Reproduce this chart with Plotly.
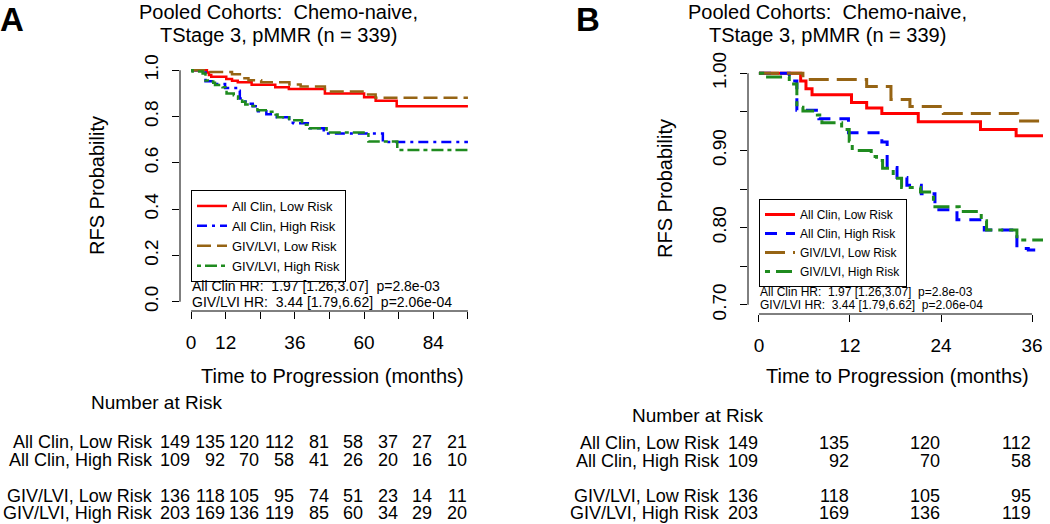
import plotly.graph_objects as go

FONT = "Liberation Sans, Arial, Helvetica, sans-serif"

# ---------------- data ----------------
series_names = ["All Clin, Low Risk", "All Clin, High Risk", "GIV/LVI, Low Risk", "GIV/LVI, High Risk"]

clin_low_t = [0, 5.5, 6.2, 7.0, 12.2, 14.2, 16.2, 21.0, 29.2, 33.9, 46.4, 60.0, 64.0, 71.3, 96.0]
clin_low_s = [1.0, 0.990, 0.980, 0.972, 0.962, 0.955, 0.948, 0.937, 0.927, 0.919, 0.900, 0.883, 0.868, 0.845, 0.845]

clin_high_t = [0, 4.0, 5.0, 7.9, 11.8, 16.2, 16.9, 18.2, 19.5, 21.4, 23.2, 26.1, 29.7, 34.0, 35.5, 41.3, 46.0, 66.5, 96.0]
clin_high_s = [1.0, 0.990, 0.952, 0.941, 0.923, 0.911, 0.878, 0.865, 0.855, 0.844, 0.823, 0.810, 0.797, 0.773, 0.771, 0.749, 0.727, 0.690, 0.690]

giv_low_t = [0, 5.8, 14.2, 17.4, 19.9, 24.3, 34.1, 38.0, 46.4, 60.3, 64.0, 96.0]
giv_low_s = [1.0, 0.992, 0.983, 0.966, 0.957, 0.948, 0.938, 0.930, 0.908, 0.895, 0.881, 0.881]

giv_high_t = [0, 0.5, 4.0, 5.0, 5.8, 7.7, 8.3, 10.9, 11.9, 12.3, 14.8, 15.5, 16.3, 17.7, 18.8, 21.3, 23.0, 26.4,
              29.3, 30.0, 34.0, 38.5, 41.0, 47.0, 61.5, 71.5, 96.0]
giv_high_s = [1.0, 0.995, 0.986, 0.956, 0.951, 0.946, 0.936, 0.927, 0.912, 0.900, 0.892, 0.887, 0.877, 0.864,
              0.852, 0.846, 0.827, 0.821, 0.809, 0.797, 0.784, 0.765, 0.749, 0.731, 0.692, 0.656, 0.656]

colors = ["#FF0000", "#0000FF", "#966414", "#1F8B1F"]

# axes ticks
a_xticks = [0, 12, 24, 36, 48, 60, 72, 84, 96]
a_xtext = ["0", "12", "", "36", "", "60", "", "84", ""]
a_yticks = [0.0, 0.2, 0.4, 0.6, 0.8, 1.0]
a_ytext = ["0.0", "0.2", "0.4", "0.6", "0.8", "1.0"]
b_xticks = [0, 12, 24, 36]
b_xtext = ["0", "12", "24", "36"]
b_yticks = [0.70, 0.75, 0.80, 0.85, 0.90, 0.95, 1.00]
b_ytext = ["0.70", "", "0.80", "", "0.90", "", "1.00"]

# number at risk
risk_a_times = [0, 12, 24, 36, 48, 60, 72, 84, 96]
risk_clin_low = [149, 135, 120, 112, 81, 58, 37, 27, 21]
risk_clin_high = [109, 92, 70, 58, 41, 26, 20, 16, 10]
risk_giv_low = [136, 118, 105, 95, 74, 51, 23, 14, 11]
risk_giv_high = [203, 169, 136, 119, 85, 60, 34, 29, 20]
risk_b_times = [0, 12, 24, 36]

title_l1 = "Pooled Cohorts:&nbsp; Chemo-naive,"
title_l2 = "TStage 3, pMMR (n = 339)"
hr_l1 = "All Clin HR:&nbsp; 1.97 [1.26,3.07]&nbsp; p=2.8e-03"
hr_l2 = "GIV/LVI HR:&nbsp; 3.44 [1.79,6.62]&nbsp; p=2.06e-04"

W, H = 1050, 524


def px_x(p):
    return p / W


def px_y(p):
    return 1 - p / H


def padded(ticks):
    lo, hi = min(ticks), max(ticks)
    d = (hi - lo) * 0.04
    return [lo - d, hi + d]


fig = go.Figure()

times = [clin_low_t, clin_high_t, giv_low_t, giv_high_t]
survs = [clin_low_s, clin_high_s, giv_low_s, giv_high_s]
dash_a = ["solid", "10px,5px,3px,5px", "14px,6px", "4px,4px,12px,4px"]
dash_b = ["solid", "12px,9px", "20px,8px", "5px,6px,16px,6px"]

for i in range(4):
    fig.add_trace(go.Scatter(x=times[i], y=survs[i], mode="lines", line_shape="hv",
                             line=dict(color=colors[i], width=2.5, dash=dash_a[i]),
                             name=series_names[i], xaxis="x", yaxis="y", legend="legend"))
for i in range(4):
    fig.add_trace(go.Scatter(x=times[i], y=survs[i], mode="lines", line_shape="hv",
                             line=dict(color=colors[i], width=3, dash=dash_b[i]),
                             name=series_names[i], xaxis="x2", yaxis="y2", legend="legend2"))

axis_common = dict(showgrid=False, zeroline=False, showline=False, ticks="outside", ticklen=7,
                   tickwidth=1, tickcolor="black", automargin=False,
                   tickfont=dict(family=FONT, size=19, color="black"))

fig.update_layout(
    width=W, height=H, margin=dict(l=0, r=0, t=0, b=0, pad=0, autoexpand=False),
    paper_bgcolor="white", plot_bgcolor="white",
    font=dict(family=FONT, color="black"),
    xaxis=dict(domain=[px_x(180), px_x(479)], range=padded(a_xticks), anchor="y",
               tickvals=a_xticks, ticktext=a_xtext, ticklabelstandoff=7, **axis_common),
    yaxis=dict(domain=[px_y(311), px_y(61)], range=padded(a_yticks), anchor="x",
               tickvals=a_yticks, ticktext=a_ytext, tickangle=-90, ticklabelstandoff=6, **axis_common),
    xaxis2=dict(domain=[px_x(748), px_x(1043)], range=padded(b_xticks), anchor="y2",
                tickvals=b_xticks, ticktext=b_xtext, ticklabelstandoff=7, **axis_common),
    yaxis2=dict(domain=[px_y(314), px_y(64)], range=padded(b_yticks), anchor="x2",
                tickvals=b_yticks, ticktext=b_ytext, tickangle=-90, ticklabelstandoff=6, **axis_common),
    legend=dict(x=px_x(191), y=px_y(190), xanchor="left", yanchor="top", bordercolor="black",
                borderwidth=1, bgcolor="white", font=dict(family=FONT, size=13, color="black"),
                itemwidth=30, tracegroupgap=0),
    legend2=dict(x=px_x(759), y=px_y(199), xanchor="left", yanchor="top", bordercolor="black",
                 borderwidth=1, bgcolor="white", font=dict(family=FONT, size=12, color="black"),
                 itemwidth=30, tracegroupgap=0),
    showlegend=True,
)

# axis lines spanning only the tick range (R style)
shapes = []
for xa, ya, xt, yt in [("x", "y", a_xticks, a_yticks), ("x2", "y2", b_xticks, b_yticks)]:
    shapes.append(dict(type="line", xref=xa, yref=ya + " domain", x0=min(xt), x1=max(xt), y0=0, y1=0,
                       line=dict(color="black", width=1)))
    shapes.append(dict(type="line", xref=xa + " domain", yref=ya, x0=0, x1=0, y0=min(yt), y1=max(yt),
                       line=dict(color="black", width=1)))
fig.update_layout(shapes=shapes)

ann = []


def text(x, y, s, size, xanchor="center", xref="paper", angle=0, bold=False, yanchor="middle"):
    ann.append(dict(x=x, y=y, xref=xref, yref="paper", text=("<b>%s</b>" % s) if bold else s,
                    showarrow=False, xanchor=xanchor, yanchor=yanchor, textangle=angle,
                    font=dict(family=FONT, size=size, color="black"), borderpad=0))


# panel labels
text(px_x(12), px_y(0), "A", 33, bold=True, yanchor="top")
text(px_x(588), px_y(0), "B", 33, bold=True, yanchor="top")
# titles
text(px_x(278), px_y(0), title_l1, 20, yanchor="top")
text(px_x(278), px_y(35), title_l2, 20)
text(px_x(827), px_y(0), title_l1, 20, yanchor="top")
text(px_x(827), px_y(35), title_l2, 20)
# axis titles
text(px_x(97), px_y(186), "RFS Probability", 20, angle=-90)
text(px_x(665), px_y(189), "RFS Probability", 20, angle=-90)
text(px_x(333), px_y(376), "Time to Progression (months)", 20)
text(px_x(897), px_y(376), "Time to Progression (months)", 20)
# HR text
ann.append(dict(x=0, y=px_y(286), xref="x", yref="paper", text=hr_l1, showarrow=False, xanchor="left",
                yanchor="middle", font=dict(family=FONT, size=14, color="black"), borderpad=0))
ann.append(dict(x=0, y=px_y(302), xref="x", yref="paper", text=hr_l2, showarrow=False, xanchor="left",
                yanchor="middle", font=dict(family=FONT, size=14, color="black"), borderpad=0))
ann.append(dict(x=0, y=px_y(292), xref="x2", yref="paper", text=hr_l1, showarrow=False, xanchor="left",
                yanchor="middle", font=dict(family=FONT, size=12, color="black"), borderpad=0))
ann.append(dict(x=0, y=px_y(305), xref="x2", yref="paper", text=hr_l2, showarrow=False, xanchor="left",
                yanchor="middle", font=dict(family=FONT, size=12, color="black"), borderpad=0))

# number at risk tables
text(px_x(156), px_y(402), "Number at Risk", 19)
text(px_x(697), px_y(415), "Number at Risk", 19)
risk_rows = [risk_clin_low, risk_clin_high, risk_giv_low, risk_giv_high]
rows_y_a = [442, 460, 496, 513]
rows_y_b = [443, 461, 496, 513]
for r in range(4):
    text(px_x(154), px_y(rows_y_a[r]), series_names[r], 18, xanchor="right")
    text(px_x(721), px_y(rows_y_b[r]), series_names[r], 18, xanchor="right")
    for j, t in enumerate(risk_a_times):
        text(t, px_y(rows_y_a[r]), str(risk_rows[r][j]), 18, xanchor="right", xref="x")
    for j, t in enumerate(risk_b_times):
        text(t, px_y(rows_y_b[r]), str(risk_rows[r][j]), 18, xanchor="right", xref="x2")

fig.update_layout(annotations=ann)

fig.write_html("out.html", config={"displayModeBar": False},
               post_script="document.body.style.margin='0';document.documentElement.style.overflow='hidden';")
